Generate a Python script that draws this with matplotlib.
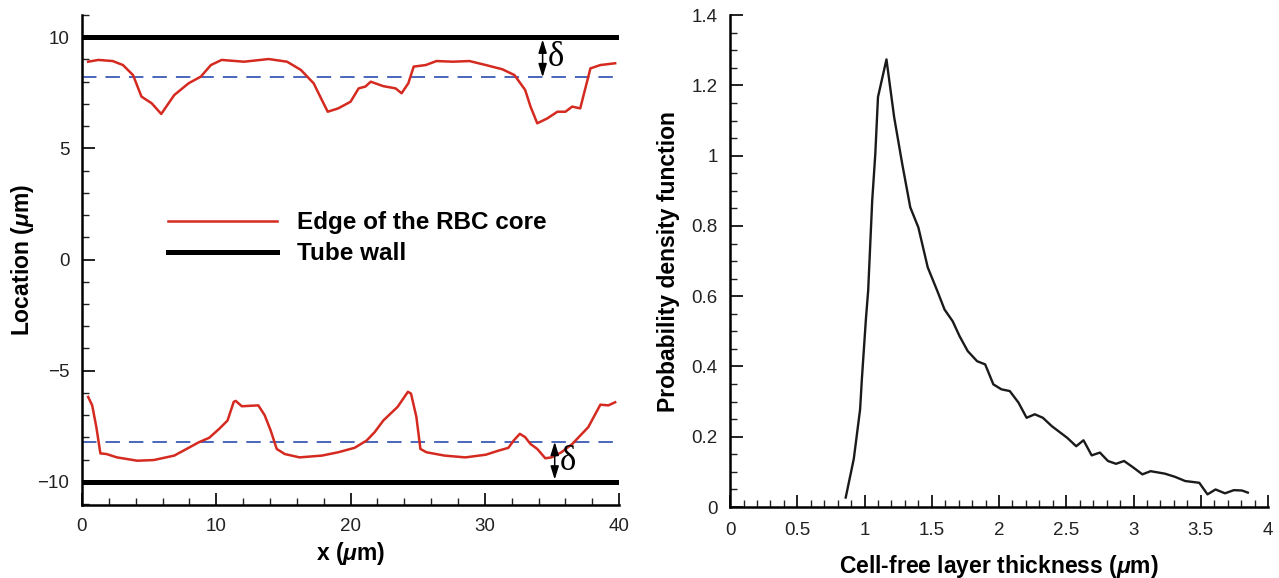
import matplotlib
matplotlib.use("Agg")
import matplotlib.pyplot as plt
from matplotlib.ticker import MultipleLocator, FuncFormatter
from matplotlib.lines import Line2D

plt.rcParams['font.family'] = ['Liberation Sans', 'DejaVu Sans']
plt.rcParams['mathtext.fontset'] = 'custom'
plt.rcParams['mathtext.rm'] = 'Liberation Sans:bold'
plt.rcParams['mathtext.it'] = 'Liberation Sans:italic:bold'

# upper edge of the RBC core (x in um, location in um)
top_x = [0.46, 1.22, 2.29, 3.05, 3.8, 4.43, 5.19, 5.9, 6.87, 7.94, 8.85, 9.6, 10.4,
         12.06, 13.9, 15.27, 16.3, 17.25, 17.86, 18.3, 19.08, 20.0, 20.6, 21.1, 21.5,
         22.44, 23.35, 23.8, 24.3, 24.7, 25.6, 26.4, 27.6, 28.85, 30.07, 31.3, 32.2,
         33.0, 33.4, 33.9, 34.65, 35.4, 36.0, 36.5, 37.1, 37.86, 38.6, 39.7]
top_y = [8.9, 8.98, 8.93, 8.75, 8.3, 7.33, 7.03, 6.55, 7.4, 7.93, 8.23, 8.75, 8.98,
         8.9, 9.02, 8.9, 8.53, 7.93, 7.18, 6.65, 6.8, 7.1, 7.7, 7.78, 8.0,
         7.8, 7.7, 7.48, 7.93, 8.68, 8.75, 8.93, 8.9, 8.93, 8.75, 8.56, 8.3,
         7.63, 6.88, 6.13, 6.35, 6.65, 6.65, 6.88, 6.8, 8.6, 8.75, 8.83]

# lower edge of the RBC core
bot_x = [0.46, 0.76, 1.07, 1.37, 1.83, 2.6, 4.12, 5.34, 6.87, 7.79, 8.7, 9.47, 10.23,
         10.84, 11.3, 11.45, 11.9, 13.13, 13.6, 14.05, 14.5, 15.1, 16.2, 17.86, 19.08,
         20.3, 21.2, 21.8, 22.44, 23.5, 24.27, 24.5, 24.9, 25.2, 25.65, 27.0, 28.55,
         30.07, 31.0, 31.75, 32.15, 32.6, 33.0, 33.4, 33.9, 34.5, 34.96, 35.7, 36.5,
         37.7, 38.6, 39.2, 39.7]
bot_y = [-6.18, -6.56, -7.54, -8.72, -8.75, -8.9, -9.05, -9.02, -8.82, -8.52, -8.22, -8.02, -7.61,
         -7.24, -6.4, -6.36, -6.6, -6.56, -7.0, -7.69, -8.52, -8.75, -8.9, -8.82, -8.67,
         -8.47, -8.14, -7.76, -7.24, -6.63, -5.95, -6.03, -7.08, -8.52, -8.67, -8.82, -8.9,
         -8.78, -8.6, -8.47, -8.14, -7.84, -7.99, -8.3, -8.52, -8.94, -8.9, -8.67, -8.3,
         -7.54, -6.53, -6.56, -6.42]

wall = 10.0
mean_edge = 8.2

# pdf of the cell-free layer thickness
cfl_x = [0.86, 0.92, 0.967, 0.98, 1.01, 1.027, 1.057, 1.08, 1.1, 1.163, 1.22, 1.28, 1.34,
         1.4, 1.47, 1.54, 1.595, 1.655, 1.707, 1.767, 1.837, 1.897, 1.958, 2.018, 2.08,
         2.145, 2.205, 2.266, 2.326, 2.393, 2.507, 2.574, 2.628, 2.689, 2.75, 2.81, 2.87,
         2.93, 3.0, 3.066, 3.127, 3.233, 3.308, 3.384, 3.489, 3.55, 3.61, 3.68, 3.746,
         3.807, 3.85]
cfl_pdf = [0.027, 0.137, 0.278, 0.363, 0.534, 0.616, 0.872, 1.005, 1.167, 1.274, 1.11, 0.977, 0.853,
           0.796, 0.682, 0.616, 0.562, 0.529, 0.486, 0.444, 0.415, 0.406, 0.349, 0.335, 0.33,
           0.297, 0.254, 0.264, 0.254, 0.23, 0.197, 0.173, 0.19, 0.147, 0.155, 0.131, 0.123,
           0.131, 0.112, 0.093, 0.102, 0.095, 0.086, 0.074, 0.069, 0.036, 0.05, 0.039, 0.048,
           0.047, 0.041]

fig = plt.figure(figsize=(12.79, 5.78), dpi=100)
ax1 = fig.add_axes([0.0641, 0.126, 0.420, 0.848])
ax2 = fig.add_axes([0.5708, 0.1228, 0.4206, 0.851])


def style_axes(ax, xpad, ypad):
    for side in ['top', 'right']:
        ax.spines[side].set_visible(False)
    for side in ['left', 'bottom']:
        ax.spines[side].set_linewidth(1.8)
    ax.tick_params(which='both', direction='in', top=False, right=False,
                   labelsize=13.5, colors='#222222')
    ax.tick_params(axis='x', which='major', length=9, width=1.4, pad=xpad)
    ax.tick_params(axis='y', which='major', length=9, width=1.4, pad=ypad)
    ax.tick_params(which='minor', length=5, width=1.0)


# left panel
ax1.plot([0, 40], [wall, wall], color='black', lw=3.6, solid_capstyle='butt')
ax1.plot([0, 40], [-wall, -wall], color='black', lw=3.6, solid_capstyle='butt')
ax1.plot([0, 40], [mean_edge, mean_edge], color='#3a5bb5', lw=1.3, dashes=(8, 5))
ax1.plot([0, 40], [-mean_edge, -mean_edge], color='#3a5bb5', lw=1.3, dashes=(8, 5))
ax1.plot(top_x, top_y, color='#d42a20', lw=1.8)
ax1.plot(bot_x, bot_y, color='#d42a20', lw=1.8)

arrow = dict(arrowstyle='<|-|>,head_length=0.8,head_width=0.25', color='black',
             lw=1.1, mutation_scale=10, shrinkA=0, shrinkB=0)
ax1.annotate('', xy=(34.3, wall - 0.1), xytext=(34.3, mean_edge), arrowprops=arrow)
ax1.annotate('', xy=(35.2, -wall + 0.1), xytext=(35.2, -mean_edge), arrowprops=arrow)
ax1.text(34.7, 9.1, 'δ', family='Liberation Serif', fontsize=25, va='center', ha='left')
ax1.text(35.6, -9.1, 'δ', family='Liberation Serif', fontsize=25, va='center', ha='left')

ax1.set_xlim(0, 40)
ax1.set_ylim(-11.05, 11.0)
ax1.xaxis.set_major_locator(MultipleLocator(10))
ax1.xaxis.set_minor_locator(MultipleLocator(2))
ax1.yaxis.set_major_locator(MultipleLocator(5))
ax1.yaxis.set_minor_locator(MultipleLocator(1))
style_axes(ax1, xpad=9, ypad=9)
ax1.set_xlabel(r'x ($\mu$m)', fontsize=16.5, fontweight='bold', labelpad=4)
ax1.set_ylabel(r'Location ($\mu$m)', fontsize=16.5, fontweight='bold', labelpad=1)

handles = [Line2D([], [], color='#d42a20', lw=1.8),
           Line2D([], [], color='black', lw=3.6)]
ax1.legend(handles, ['Edge of the RBC core', 'Tube wall'], loc='upper left',
           bbox_to_anchor=(0.16, 0.60), frameon=False, borderpad=0, borderaxespad=0,
           handlelength=4.5, handletextpad=0.8, labelspacing=0.33,
           prop={'weight': 'bold', 'size': 17.5})

# right panel
ax2.plot(cfl_x, cfl_pdf, color='#1a1a1a', lw=1.7)
ax2.set_xlim(0, 4)
ax2.set_ylim(0, 1.4)
ax2.xaxis.set_major_locator(MultipleLocator(0.5))
ax2.xaxis.set_minor_locator(MultipleLocator(0.1))
ax2.yaxis.set_major_locator(MultipleLocator(0.2))
ax2.yaxis.set_minor_locator(MultipleLocator(0.05))
fmt = FuncFormatter(lambda v, p: '%g' % round(v, 2))
ax2.xaxis.set_major_formatter(fmt)
ax2.yaxis.set_major_formatter(fmt)
style_axes(ax2, xpad=11, ypad=9)
ax2.set_xlabel(r'Cell-free layer thickness ($\mu$m)', fontsize=16.5, fontweight='bold', labelpad=10)
ax2.set_ylabel('Probability density function', fontsize=16.5, fontweight='bold', labelpad=8)

fig.savefig('out.png', dpi=100)
